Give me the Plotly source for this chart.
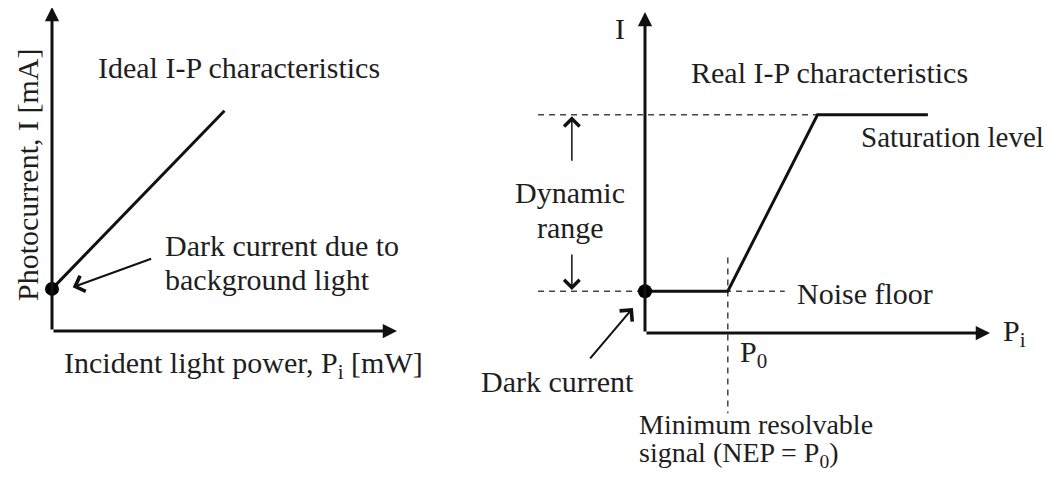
import plotly.graph_objects as go

# the page body keeps an 8px margin, so the figure is drawn 8px in from the corner
OFF = 8
W, H = 1057 - 2 * OFF, 480 - 2 * OFF

# ideal I-P characteristic (left panel), schematic units
axis_max = 10
ideal_p = [0, 5.0]
ideal_i = [1.3, 6.8]

# real I-P characteristic (right panel)
real_p = [0, 2.4, 5.0, 8.2]
real_i = [1.3, 1.3, 6.8, 6.8]
noise_floor = 1.3
saturation = 6.8
p0 = 2.4
guide_left = -3.1      # where the dashed guide lines start
noise_dash_end = 4.05
p0_dash = [2.35, -2.5]

FONT = dict(family="Liberation Serif", size=30, color="#1e1e1e")
INK = "#111111"


def axis_range(origin_px, scale, lo_px, hi_px, flip=False):
    # turn a window of reference pixels into data units around the panel origin
    if flip:
        return [(origin_px - hi_px) / scale, (origin_px - lo_px) / scale]
    return [(lo_px - origin_px) / scale, (hi_px - origin_px) / scale]


fig = go.Figure()

dash = dict(color="#444", width=1.5, dash="6px,5px")
# dashed guides (right panel)
fig.add_trace(go.Scatter(x=[guide_left, real_p[2]], y=[saturation, saturation], mode="lines",
                         line=dash, xaxis="x2", yaxis="y2"))
fig.add_trace(go.Scatter(x=[guide_left, noise_dash_end], y=[noise_floor, noise_floor], mode="lines",
                         line=dash, xaxis="x2", yaxis="y2"))
fig.add_trace(go.Scatter(x=[p0, p0], y=p0_dash, mode="lines",
                         line=dash, xaxis="x2", yaxis="y2"))

# characteristic curves
fig.add_trace(go.Scatter(x=ideal_p, y=ideal_i, mode="lines", line=dict(color=INK, width=3)))
fig.add_trace(go.Scatter(x=real_p, y=real_i, mode="lines", line=dict(color=INK, width=3),
                         xaxis="x2", yaxis="y2"))

# dark current dots
fig.add_trace(go.Scatter(x=[0], y=[ideal_i[0]], mode="markers", marker=dict(color="black", size=14)))
fig.add_trace(go.Scatter(x=[0], y=[real_i[0]], mode="markers", marker=dict(color="black", size=14),
                         xaxis="x2", yaxis="y2"))

ann = []

# axes drawn as arrows
for xr, yr in (("x", "y"), ("x2", "y2")):
    ann.append(dict(x=axis_max, y=0, ax=0, ay=0, xref=xr, yref=yr, axref=xr, ayref=yr,
                    showarrow=True, arrowhead=2, arrowsize=0.95, arrowwidth=3, arrowcolor=INK, text=""))
    ann.append(dict(x=0, y=axis_max, ax=0, ay=0, xref=xr, yref=yr, axref=xr, ayref=yr,
                    showarrow=True, arrowhead=2, arrowsize=0.95, arrowwidth=3, arrowcolor=INK, text=""))

# pointer arrows
ann.append(dict(x=0.6, y=1.35, xref="x", yref="y", ax=80, ay=-29, showarrow=True,
                arrowhead=4, arrowsize=1.6, arrowwidth=2, arrowcolor=INK, text=""))
ann.append(dict(x=-0.35, y=0.78, xref="x2", yref="y2", ax=-44, ay=52, showarrow=True,
                arrowhead=4, arrowsize=1.6, arrowwidth=2, arrowcolor=INK, text=""))
ann.append(dict(x=-2.12, y=saturation - 0.05, xref="x2", yref="y2", ax=0, ay=46, showarrow=True,
                arrowhead=4, arrowsize=2, arrowwidth=1.5, arrowcolor=INK, text=""))
ann.append(dict(x=-2.12, y=noise_floor + 0.04, xref="x2", yref="y2", ax=0, ay=-37, showarrow=True,
                arrowhead=4, arrowsize=2, arrowwidth=1.5, arrowcolor=INK, text=""))


def label(text, px, py, anchor="center", angle=0, size=30):
    ann.append(dict(text=text, x=(px - OFF) / W, y=1 - (py - OFF) / H, xref="paper", yref="paper",
                    xanchor=anchor, yanchor="middle", showarrow=False, font=dict(FONT, size=size),
                    textangle=angle))


label("Ideal I-P characteristics", 239, 68)
label("Photocurrent, I [mA]", 27, 175, angle=-90)
label("Dark current due to", 163, 245, anchor="left")
label("background light", 163, 279, anchor="left")
label("Incident light power, P<sub>i</sub> [mW]", 243, 365)

label("I", 620, 28)
label("Real I-P characteristics", 829, 72)
label("Saturation level", 859, 137, anchor="left", size=29)
label("Dynamic", 570, 192)
label("range", 570, 227)
label("Noise floor", 795, 293, anchor="left")
label("P<sub>0</sub>", 738, 354, anchor="left")
label("P<sub>i</sub>", 1001, 333, anchor="left")
label("Dark current", 557, 381)
label("Minimum resolvable", 637, 424, anchor="left", size=28)
label("signal (NEP = P<sub>0</sub>)", 637, 454, anchor="left", size=28)

mid = 1057 / 2 - OFF
hidden = dict(visible=False, showgrid=False, zeroline=False)
fig.update_layout(
    width=W, height=H, margin=dict(l=0, r=0, t=0, b=0),
    paper_bgcolor="white", plot_bgcolor="white", showlegend=False,
    xaxis=dict(domain=[0, mid / W], range=axis_range(52 - OFF, 34.5, 0, mid), **hidden),
    yaxis=dict(domain=[0, 1], range=axis_range(331 - OFF, 32.4, 0, H, flip=True), anchor="x", **hidden),
    xaxis2=dict(domain=[mid / W, 1], range=axis_range(645 - OFF, 34.5, mid, W), **hidden),
    yaxis2=dict(domain=[0, 1], range=axis_range(333 - OFF, 32.1, 0, H, flip=True), anchor="x2", **hidden),
    annotations=ann,
)

fig.write_html("out.html")
